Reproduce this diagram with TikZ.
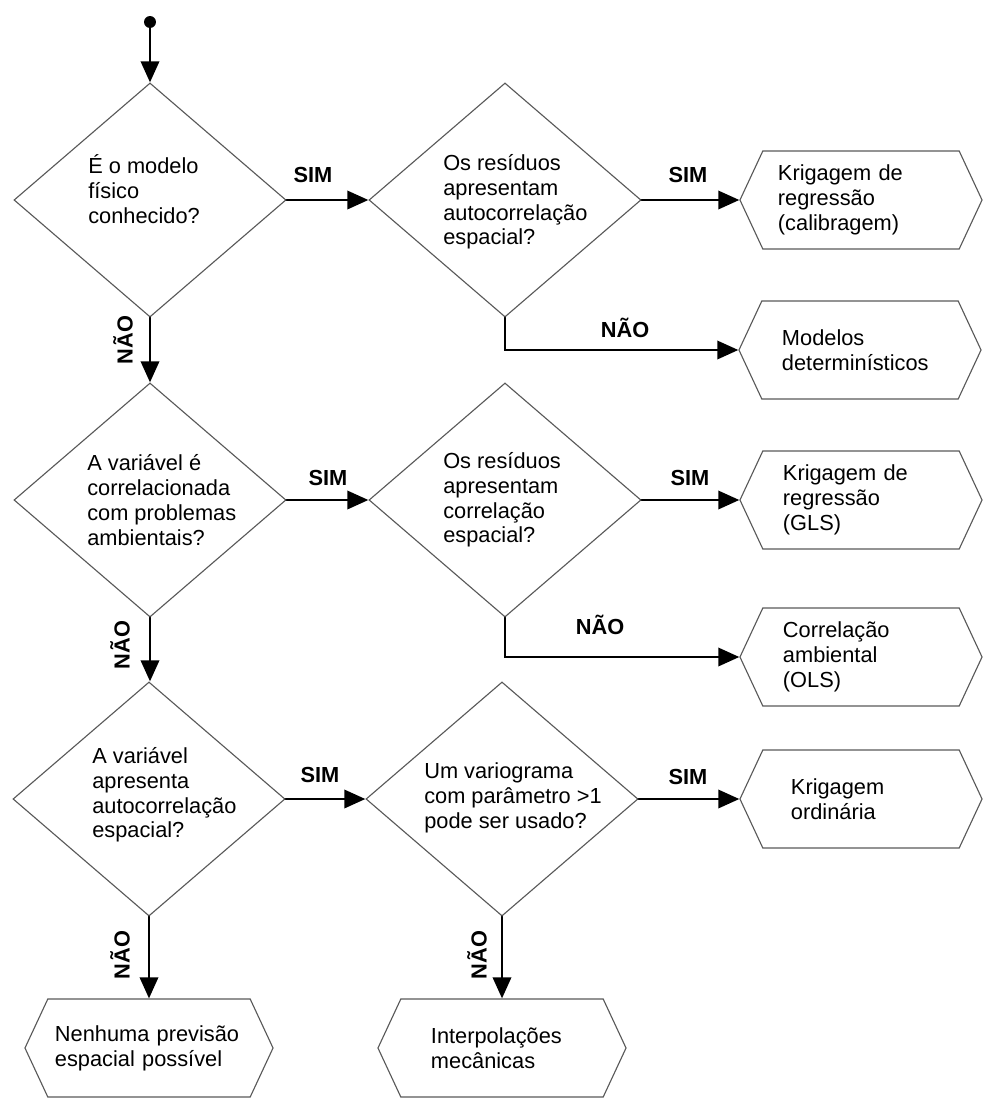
\documentclass[tikz,border=0pt]{standalone}
\usepackage{fontspec}
\setmainfont{Liberation Sans}
\usetikzlibrary{shapes,arrows.meta,calc,positioning}

\begin{document}
\begin{tikzpicture}[x=0.025cm,y=-0.025cm,line cap=round,font=\fontsize{15.5}{17.6}\selectfont]

      \useasboundingbox (0,0) rectangle (984,1099);

      \tikzstyle{decision}=[diamond, draw=black!65, line width=0.8pt, minimum width=6.8cm, minimum height=5.85cm, inner sep=0pt];
      \tikzstyle{question}=[anchor=west, align=left, inner sep=0pt];
      \tikzstyle{result}=[shape=signal, signal to=west and east, signal pointer angle=130, draw=black!65, line width=0.8pt, minimum width=6.05cm, minimum height=2.45cm, inner sep=0pt, align=left];
      \tikzstyle{flow}=[line width=1.9pt, -{Triangle[length=15pt,width=13pt]}];
      \tikzstyle{answer}=[font=\fontsize{15.5}{17.6}\selectfont\bfseries, inner sep=0pt];

      % decisoes
      \node[circle, fill=black, inner sep=0pt, minimum size=8.5pt] (start) at (150,22) {};
      \node[decision] (d1) at (150,200) {};
      \node[decision] (d2) at (505,200) {};
      \node[decision] (d3) at (150,500) {};
      \node[decision] (d4) at (505,500) {};
      \node[decision] (d5) at (149,799) {};
      \node[decision] (d6) at (502,799) {};

      \node[question] (q1) at (88,189)  {É o modelo\\físico\\conhecido?};
      \node[question] (q2) at (443,202) {Os resíduos\\apresentam\\autocorrelação\\espacial?};
      \node[question] (q3) at (87,500)  {A variável é\\correlacionada\\com problemas\\ambientais?};
      \node[question] (q4) at (443,500) {Os resíduos\\apresentam\\correlação\\espacial?};
      \node[question] (q5) at (92,795)  {A variável\\apresenta\\autocorrelação\\espacial?};
      \node[question] (q6) at (424,798) {Um variograma\\com parâmetro >1\\pode ser usado?};

      % resultados
      \node[result, text width=4.15cm] (h1) at (861,200)  {Krigagem de\\regressão\\(calibragem)};
      \node[result, text width=3.9cm]  (h2) at (860,350)  {Modelos\\determinísticos};
      \node[result, text width=3.9cm]  (h3) at (861,500)  {Krigagem de\\regressão\\(GLS)};
      \node[result, text width=3.9cm]  (h4) at (861,657)  {Correlação\\ambiental\\(OLS)};
      \node[result, text width=3.5cm]  (h5) at (861,799)  {Krigagem\\ordinária};
      \node[result, text width=4.7cm, minimum width=6.2cm]  (h6) at (149,1048) {Nenhuma previsão\\espacial possível};
      \node[result, text width=3.55cm, minimum width=6.2cm] (h7) at (502,1048) {Interpolações\\mecânicas};

      % setas
      \draw[flow] (start) -- (d1.north);
      \draw[flow] (d1.east) -- (d2.west);
      \draw[flow] (d2.east) -- (h1.west);
      \draw[flow] (d2.south) |- (h2.west);
      \draw[flow] (d1.south) -- (d3.north);
      \draw[flow] (d3.east) -- (d4.west);
      \draw[flow] (d4.east) -- (h3.west);
      \draw[flow] (d4.south) |- (h4.west);
      \draw[flow] (d3.south) -- (d3.south |- d5.north);
      \draw[flow] (d5.east) -- (d6.west);
      \draw[flow] (d6.east) -- (h5.west);
      \draw[flow] (d5.south) -- (h6.north);
      \draw[flow] (d6.south) -- (h7.north);

      % rotulos
      \node[answer] (sim1) at (313,175) {SIM};
      \node[answer] (sim2) at (688,175) {SIM};
      \node[answer] (sim3) at (328,478) {SIM};
      \node[answer] (sim4) at (690,478) {SIM};
      \node[answer] (sim5) at (320,775) {SIM};
      \node[answer] (sim6) at (688,777) {SIM};
      \node[answer] (nao1) at (625,328) {NÃO};
      \node[answer] (nao2) at (600,625) {NÃO};
      \node[answer, rotate=90] (nao3) at (123,340) {NÃO};
      \node[answer, rotate=90] (nao4) at (120,645) {NÃO};
      \node[answer, rotate=90] (nao5) at (120,955) {NÃO};
      \node[answer, rotate=90] (nao6) at (477,955) {NÃO};
    \end{tikzpicture}
\end{document}
